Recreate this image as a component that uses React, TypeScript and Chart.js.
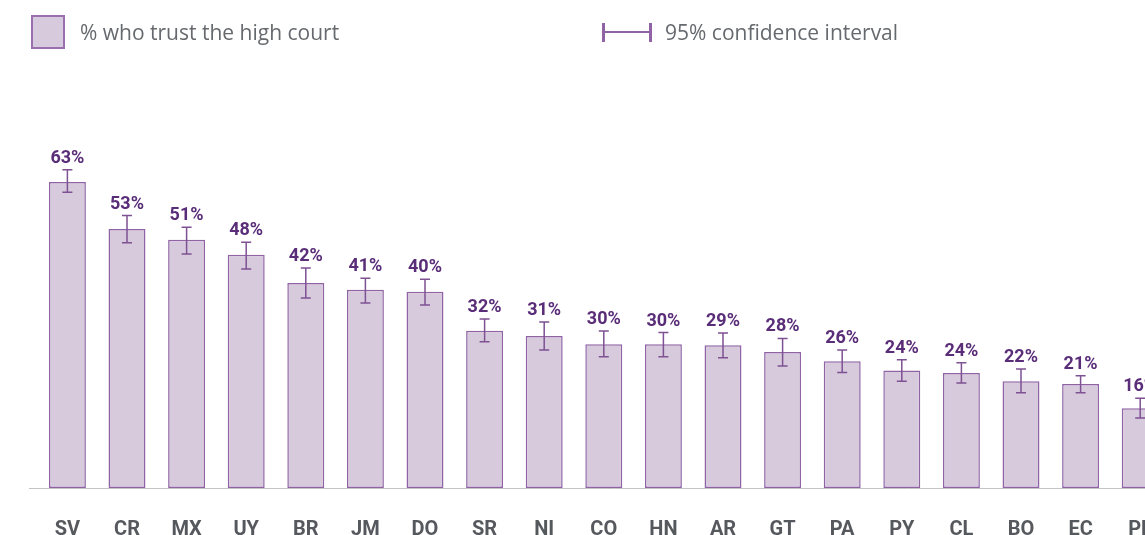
import React, { useEffect, useRef } from "react";
import { Chart, registerables } from "chart.js";

Chart.register(...registerables);

const categories = ["SV", "CR", "MX", "UY", "BR", "JM", "DO", "SR", "NI", "CO", "HN", "AR", "GT", "PA", "PY", "CL", "BO", "EC", "PE"];
const trustValues = [63.0, 53.3, 51.1, 48.0, 42.2, 40.8, 40.4, 32.4, 31.3, 29.6, 29.6, 29.4, 28.0, 26.1, 24.2, 23.7, 22.0, 21.4, 16.4];
const ciLow = [60.9, 50.5, 48.2, 45.1, 39.1, 38.1, 37.7, 30.1, 28.4, 27.0, 27.0, 26.8, 25.1, 23.8, 22.0, 21.6, 19.6, 19.6, 14.4];
const ciHigh = [65.5, 56.1, 53.7, 50.6, 45.3, 43.2, 43.0, 34.8, 34.2, 32.3, 32.0, 31.9, 30.8, 28.4, 26.4, 25.8, 24.5, 23.1, 18.5];

const BAR_FILL = "#d8cadd";
const BAR_BORDER = "#8f63a4";
const ERR_COLOR = "#7e5193";
const LABEL_COLOR = "#5a2d78";
const TICK_COLOR = "#55585d";

const overlayPlugin = {
  id: "overlay",
  afterDatasetsDraw(chart: any) {
    const { ctx, scales, chartArea } = chart;
    const x = scales.x;
    const y = scales.y;
    // baseline
    ctx.save();
    ctx.strokeStyle = "#c4c4c4";
    ctx.lineWidth = 1;
    ctx.beginPath();
    ctx.moveTo(29, Math.round(chartArea.bottom) + 0.5);
    ctx.lineTo(chart.width, Math.round(chartArea.bottom) + 0.5);
    ctx.stroke();
    // error bars and labels
    ctx.strokeStyle = ERR_COLOR;
    ctx.lineWidth = 1.5;
    ctx.fillStyle = LABEL_COLOR;
    ctx.font = "bold 18px Roboto";
    ctx.textAlign = "center";
    ctx.textBaseline = "alphabetic";
    categories.forEach((_, i) => {
      const cx = x.getPixelForValue(i);
      const yLo = y.getPixelForValue(ciLow[i]);
      const yHi = y.getPixelForValue(ciHigh[i]);
      ctx.beginPath();
      ctx.moveTo(cx, yLo);
      ctx.lineTo(cx, yHi);
      ctx.moveTo(cx - 5, yLo);
      ctx.lineTo(cx + 5, yLo);
      ctx.moveTo(cx - 5, yHi);
      ctx.lineTo(cx + 5, yHi);
      ctx.stroke();
      ctx.fillText(Math.round(trustValues[i]) + "%", cx, yHi - 7);
    });
    ctx.restore();
  },
};

export default function App() {
  const canvasRef = useRef<HTMLCanvasElement | null>(null);

  useEffect(() => {
    if (!canvasRef.current) return;
    const chart = new Chart(canvasRef.current, {
      type: "bar",
      data: {
        labels: categories,
        datasets: [
          {
            label: "% who trust the high court",
            data: trustValues,
            backgroundColor: BAR_FILL,
            borderColor: BAR_BORDER,
            borderWidth: 1.5,
            borderSkipped: false,
            categoryPercentage: 1,
            barPercentage: 0.62,
          },
        ],
      },
      options: {
        responsive: true,
        maintainAspectRatio: false,
        animation: false,
        layout: { padding: { left: 37.6, right: 30, top: 2.3, bottom: 0 } },
        plugins: { legend: { display: false }, tooltip: { enabled: false } },
        scales: {
          x: {
            grid: { display: false, drawTicks: false },
            border: { display: false },
            ticks: {
              color: TICK_COLOR,
              font: { family: "Roboto", size: 20, weight: "bold" },
              padding: 30,
              maxRotation: 0,
              autoSkip: false,
            },
            afterFit(scale: any) {
              scale.height = 47;
            },
          },
          y: {
            display: false,
            min: 0,
            max: 100,
          },
        },
      },
      plugins: [overlayPlugin],
    } as any);
    return () => chart.destroy();
  }, []);

  return (
    <div style={{ position: "fixed", left: 0, top: 0, width: 1145, height: 535, overflow: "hidden", background: "#fff" }}>
      <div style={{ position: "absolute", left: 0, top: 0, width: 1200, height: 535 }}>
        <canvas ref={canvasRef} />
      </div>
      <div style={{ position: "absolute", left: 31, top: 15, width: 34, height: 34, boxSizing: "border-box", border: "2px solid #9a6fad", background: BAR_FILL }} />
      <div style={{ position: "absolute", left: 80, top: 19, fontFamily: "'Open Sans'", fontSize: 21, lineHeight: "26px", color: "#666a6e", whiteSpace: "nowrap" }}>
        % who trust the high court
      </div>
      <div style={{ position: "absolute", left: 602, top: 23, width: 2.5, height: 19, background: "#8f63a4" }} />
      <div style={{ position: "absolute", left: 604, top: 31, width: 45, height: 1.5, background: "#8f63a4" }} />
      <div style={{ position: "absolute", left: 649, top: 23, width: 2.5, height: 19, background: "#8f63a4" }} />
      <div style={{ position: "absolute", left: 665, top: 19, fontFamily: "'Open Sans'", fontSize: 21, lineHeight: "26px", color: "#666a6e", whiteSpace: "nowrap" }}>
        95% confidence interval
      </div>
    </div>
  );
}
